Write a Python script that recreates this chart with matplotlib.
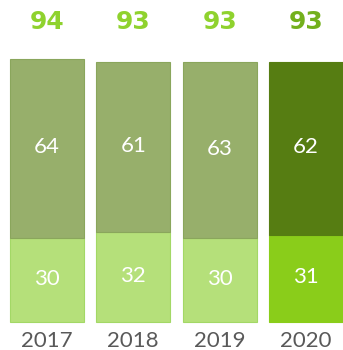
import matplotlib.pyplot as plt

years = ['2017', '2018', '2019', '2020']
lower = [30, 32, 30, 31]
upper = [64, 61, 63, 62]
totals = [94, 93, 93, 93]

lower_colors = ['#b5e07a', '#b5e07a', '#b5e07a', '#8acd1a']
upper_colors = ['#97af6b', '#97af6b', '#97af6b', '#567d12']
lower_edges = ['#a3d866', '#a3d866', '#a3d866', '#8acd1a']
upper_edges = ['#8aa65c', '#8aa65c', '#8aa65c', '#567d12']
total_colors = ['#8fd22e', '#8fd22e', '#8fd22e', '#73b01c']

plt.rcParams['font.family'] = ['Lato', 'DejaVu Sans']

fig = plt.figure(figsize=(3.43, 3.5), dpi=100)
ax = fig.add_axes([0, 0, 1, 1])

x = list(range(len(years)))
w = 0.855
ax.bar(x, lower, width=w, color=lower_colors, edgecolor=lower_edges, linewidth=0.8)
ax.bar(x, upper, width=w, bottom=lower, color=upper_colors, edgecolor=upper_edges, linewidth=0.8)

for i in x:
    ax.text(i, lower[i] / 2 + 0.4, str(lower[i]), ha='center', va='center',
            color='white', fontsize=16)
    ax.text(i, lower[i] + upper[i] / 2 + 0.4, str(upper[i]), ha='center', va='center',
            color='white', fontsize=16)
    ax.text(i, 107, str(totals[i]), ha='center', va='center',
            color=total_colors[i], fontsize=18, fontweight='bold',
            family='DejaVu Sans')
    ax.text(i, -6.9, years[i], ha='center', va='center',
            color='#595959', fontsize=16)

ax.set_xlim(-0.543, 3.428)
ax.set_ylim(-10, 115)
ax.axis('off')

fig.savefig('out.png', dpi=100)
